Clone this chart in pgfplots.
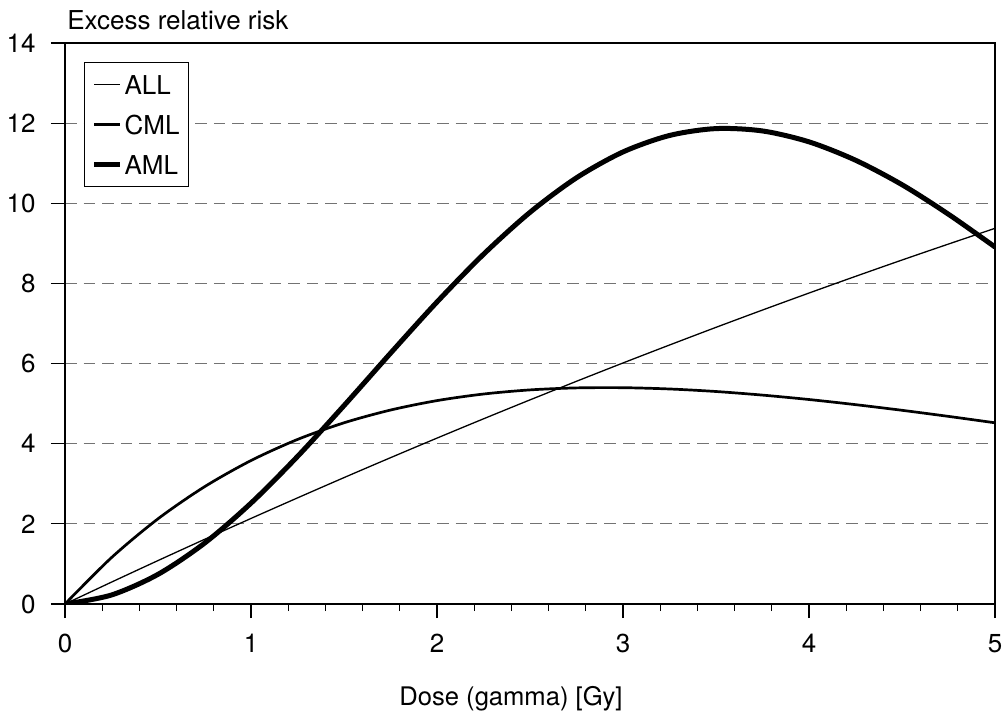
\documentclass[border=0pt]{standalone}
\usepackage{fontspec}
\setmainfont{TeX Gyre Heros}
\usepackage{pgfplots}
\pgfplotsset{compat=1.18}
\newcommand{\fs}{\fontsize{13}{15.6}\selectfont}
\begin{document}
\begin{tikzpicture}
\path (-32.5pt,-57pt) rectangle (470pt,302pt);
\begin{axis}[
  name=ax, at={(0,0)}, anchor=south west,
  scale only axis, width=465pt, height=280.5pt,
  xmin=0, xmax=5, ymin=0, ymax=14,
  xtick={0,1,2,3,4,5}, ytick={0,2,4,6,8,10,12,14},
  minor x tick num=4,
  tick align=outside, tick pos=left,
  major tick length=7pt, minor tick length=3.5pt,
  tick style={black, line width=0.6pt},
  axis line style={black, line width=0.6pt},
  ymajorgrids,
  major grid style={black!55, line width=0.5pt, dash pattern=on 5.8pt off 3.5pt},
  /pgf/number format/assume math mode=true,
  ticklabel style={font=\fs},
  xticklabel style={anchor=base, inner sep=0pt, yshift=-17pt},
  yticklabel style={anchor=east, inner sep=0pt, xshift=-7.5pt},
  legend style={at={(0.0204,0.9661)}, anchor=north west, draw=black, line width=0.6pt,
    font=\fs, inner xsep=3.5pt, inner ysep=4.3pt, row sep=6.6pt,
    nodes={inner xsep=1pt, inner ysep=2pt, text height=9.4pt, text depth=0pt}},
  legend cell align=left,
  legend image code/.code={\draw[#1] (0pt,0pt) -- (13pt,0pt);},
]
\addplot[black, line width=0.65pt, smooth] table {
x y
0 0
0.25 0.546
0.5 1.084
0.75 1.613
1 2.135
1.25 2.648
1.5 3.154
1.75 3.651
2 4.140
2.25 4.621
2.5 5.094
2.75 5.558
3 6.015
3.25 6.463
3.5 6.904
3.75 7.336
4 7.760
4.25 8.176
4.5 8.584
4.75 8.983
5 9.375
};
\addlegendentry{ALL}
\addplot[black, line width=1.35pt, smooth] table {
x y
0 0
0.25 1.158
0.5 2.126
0.75 2.926
1 3.580
1.25 4.106
1.5 4.522
1.75 4.840
2 5.076
2.25 5.240
2.5 5.343
2.75 5.393
3 5.398
3.25 5.366
3.5 5.303
3.75 5.213
4 5.103
4.25 4.975
4.5 4.834
4.75 4.682
5 4.522
};
\addlegendentry{CML}
\addplot[black, line width=2.5pt, smooth] table {
x y
0 0
0.25 0.225
0.5 0.740
0.75 1.518
1 2.517
1.25 3.682
1.5 4.951
1.75 6.258
2 7.537
2.25 8.727
2.5 9.774
2.75 10.636
3 11.281
3.25 11.692
3.5 11.864
3.75 11.805
4 11.533
4.25 11.075
4.5 10.464
4.75 9.726
5 8.909
};
\addlegendentry{AML}
\end{axis}
\node[anchor=base west, font=\fs, inner sep=0pt] at (1pt,287pt) {Excess relative risk};
\node[anchor=base, font=\fontsize{12.8}{15}\selectfont, inner sep=0pt] at (223pt,-50.5pt) {Dose (gamma) [Gy]};
\end{tikzpicture}
\end{document}
